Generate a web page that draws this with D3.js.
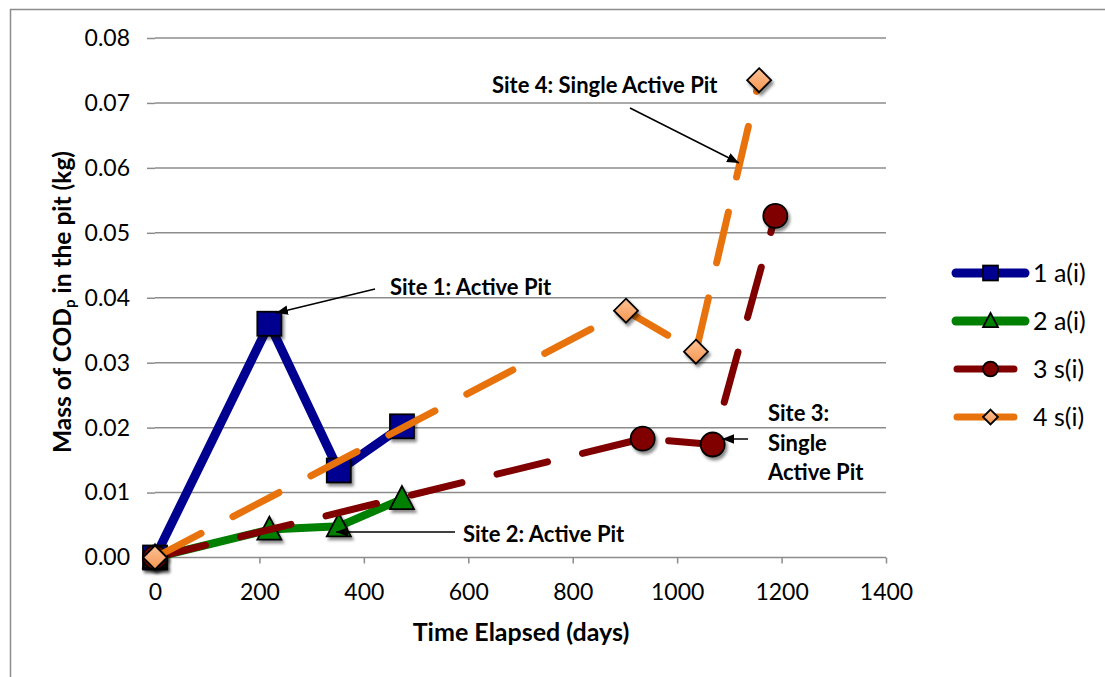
<!DOCTYPE html>
<html>
<head>
<meta charset="utf-8">
<script src="https://cdn.jsdelivr.net/npm/d3@7"></script>
<style>
  body { margin: 0; background: #fff; }
  svg text { font-family: Lato, "Open Sans", sans-serif; fill: #000; }
</style>
</head>
<body>
<div id="chart"></div>
<script>
// data
const siteNames = ['1 a(i)', '2 a(i)', '3 s(i)', '4 s(i)'];
const site1Days = [0, 219, 352, 473];
const site1Mass = [0, 0.0360, 0.0134, 0.0202];
const site2Days = [0, 219, 352, 473];
const site2Mass = [0, 0.0043, 0.0048, 0.0090];
const site3Days = [0, 934, 1068, 1188];
const site3Mass = [0, 0.0183, 0.0174, 0.0526];
const site4Days = [0, 902, 1036, 1157];
const site4Mass = [0, 0.0380, 0.0317, 0.0735];
const xTicks = [0, 200, 400, 600, 800, 1000, 1200, 1400];
const yTicks = [0, 0.01, 0.02, 0.03, 0.04, 0.05, 0.06, 0.07, 0.08];

const w = 1105, h = 677;
const plotLeft = 155, plotRight = 886, plotTop = 38, plotBottom = 557.5;

const svg = d3.select('#chart').append('svg').attr('width', w).attr('height', h);
const defs = svg.append('defs');
defs.append('filter').attr('id', 'shadow').attr('x', '-50%').attr('y', '-50%').attr('width', '200%').attr('height', '200%')
  .append('feDropShadow').attr('dx', 2).attr('dy', 3).attr('stdDeviation', 1.8)
  .attr('flood-color', '#000').attr('flood-opacity', 0.45);
defs.append('marker').attr('id', 'arrow').attr('viewBox', '0 0 10 10')
  .attr('refX', 10).attr('refY', 5).attr('markerWidth', 12).attr('markerHeight', 12)
  .attr('markerUnits', 'userSpaceOnUse').attr('orient', 'auto')
  .append('path').attr('d', 'M0,1 L10,5 L0,9 Z').attr('fill', '#000');
const grad = defs.append('linearGradient').attr('id', 'dgrad').attr('x1', 0).attr('y1', 0).attr('x2', 0).attr('y2', 1);
grad.append('stop').attr('offset', '0%').attr('stop-color', '#fcc197');
grad.append('stop').attr('offset', '100%').attr('stop-color', '#f7964f');

// outer border
svg.append('rect').attr('x', 10.5).attr('y', 9.5).attr('width', 1200).attr('height', 800)
  .attr('fill', 'none').attr('stroke', '#8c8c8c').attr('stroke-width', 1.5);

const x = d3.scaleLinear().domain([0, 1400]).range([plotLeft, plotRight]);
const y = d3.scaleLinear().domain([0, 0.08]).range([plotBottom, plotTop]);

// gridlines
svg.append('g').selectAll('line').data(yTicks.slice(1)).join('line')
  .attr('x1', plotLeft).attr('x2', plotRight).attr('y1', d => y(d)).attr('y2', d => y(d))
  .attr('stroke', '#8c8c8c').attr('stroke-width', 1.5);

const yAxis = d3.axisLeft(y).tickValues(yTicks).tickSize(8).tickPadding(17).tickFormat(d3.format('.2f'));
const xAxis = d3.axisBottom(x).tickValues(xTicks).tickSize(6).tickPadding(20).tickFormat(d3.format('d'));
const gy = svg.append('g').attr('transform', `translate(${plotLeft},0)`).call(yAxis);
const gx = svg.append('g').attr('transform', `translate(0,${plotBottom})`).call(xAxis);
[gx, gy].forEach(g => {
  g.select('.domain').attr('stroke', '#8c8c8c').attr('stroke-width', 1.5);
  g.selectAll('.tick line').attr('stroke', '#8c8c8c').attr('stroke-width', 1.5);
  g.selectAll('.tick text').style('font-size', '23px').style('font-family', 'Lato, sans-serif').attr('fill', '#000');
});
gx.selectAll('.tick text').attr('dy', '0.71em').attr('y', 6 + 20);
gx.select('.domain').attr('d', `M${plotLeft},0H${plotRight}`);
gy.select('.domain').attr('d', `M0,${plotTop - plotBottom}V0`);

// axis titles
svg.append('text').attr('x', 521).attr('y', 641).attr('text-anchor', 'middle')
  .style('font-size', '25px').style('font-weight', 'bold').text('Time Elapsed (days)');
const yl = svg.append('text').attr('transform', 'translate(71,302) rotate(-90)').attr('text-anchor', 'middle')
  .style('font-size', '24.5px').style('font-weight', 'bold');
yl.append('tspan').text('Mass of COD');
yl.append('tspan').attr('dy', 4).style('font-size', '15px').text('p');
yl.append('tspan').attr('dy', -4).text(' in the pit (kg)');

const series = [
  { name: siteNames[0], days: site1Days, mass: site1Mass, color: '#000090', width: 9, dash: null, shape: 'square', fill: '#000090' },
  { name: siteNames[1], days: site2Days, mass: site2Mass, color: '#008000', width: 8, dash: null, shape: 'triangle', fill: '#008000' },
  { name: siteNames[2], days: site3Days, mass: site3Mass, color: '#800000', width: 7, dash: '52,36', shape: 'circle', fill: '#800000' },
  { name: siteNames[3], days: site4Days, mass: site4Mass, color: '#e8730c', width: 7, dash: '52,36', shape: 'diamond', fill: 'url(#dgrad)' }
];

const line = d3.line().x(d => x(d[0])).y(d => y(d[1]));

function drawMarker(g, shape, cx, cy, fill, scale) {
  const s = scale || 1;
  let el;
  if (shape === 'square') {
    el = g.append('rect').attr('x', cx - 12 * s).attr('y', cy - 12 * s).attr('width', 24 * s).attr('height', 24 * s);
  } else if (shape === 'triangle') {
    el = g.append('path').attr('d', `M${cx},${cy - 13 * s}L${cx + 12 * s},${cy + 10 * s}L${cx - 12 * s},${cy + 10 * s}Z`);
  } else if (shape === 'circle') {
    el = g.append('circle').attr('cx', cx).attr('cy', cy).attr('r', 12 * s);
  } else {
    el = g.append('path').attr('d', `M${cx},${cy - 12 * s}L${cx + 12 * s},${cy}L${cx},${cy + 12 * s}L${cx - 12 * s},${cy}Z`);
  }
  el.attr('fill', fill).attr('stroke', '#000').attr('stroke-width', 1.8).attr('stroke-linejoin', 'miter');
  return el;
}

series.forEach(s => {
  const pts = s.days.map((d, i) => [d, s.mass[i]]);
  const g = svg.append('g');
  g.append('path').datum(pts).attr('d', line).attr('fill', 'none')
    .attr('stroke', s.color).attr('stroke-width', s.width)
    .attr('stroke-linecap', 'round').attr('stroke-linejoin', 'round')
    .attr('stroke-dasharray', s.dash);
  pts.forEach(p => drawMarker(g, s.shape, x(p[0]), y(p[1]), s.fill).attr('filter', 'url(#shadow)'));
});

// annotations
const notes = [
  { lines: ['Site 4: Single Active Pit'], tx: 492, ty: 93, from: [630, 108], to: [739, 163] },
  { lines: ['Site 1: Active Pit'], tx: 390, ty: 295, from: [375, 289], to: [276, 313] },
  { lines: ['Site 2: Active Pit'], tx: 463, ty: 542, from: [455, 532], to: [336, 532] },
  { lines: ['Site 3:', 'Single', 'Active Pit'], tx: 768, ty: 421, from: [748, 439], to: [722, 439] }
];
notes.forEach(n => {
  const t = svg.append('text').attr('x', n.tx).attr('y', n.ty).style('font-size', '22px').style('font-weight', 'bold');
  n.lines.forEach((l, i) => t.append('tspan').attr('x', n.tx).attr('dy', i ? 29.5 : 0).text(l));
  svg.append('line').attr('x1', n.from[0]).attr('y1', n.from[1]).attr('x2', n.to[0]).attr('y2', n.to[1])
    .attr('stroke', '#000').attr('stroke-width', 1.5).attr('marker-end', 'url(#arrow)');
});

// legend
const lg = svg.append('g');
series.forEach((s, i) => {
  const ly = 273 + i * 48;
  const thick = i < 2;
  lg.append('line').attr('x1', thick ? 956 : 957).attr('x2', thick ? 1025 : 1014).attr('y1', ly).attr('y2', ly)
    .attr('stroke', s.color).attr('stroke-width', thick ? 9 : 7).attr('stroke-linecap', 'round');
  drawMarker(lg, s.shape, 990.5, ly, s.fill, 0.62);
  lg.append('text').attr('x', 1033).attr('y', ly + 9).style('font-size', '25px').text(s.name);
});
</script>
</body>
</html>
